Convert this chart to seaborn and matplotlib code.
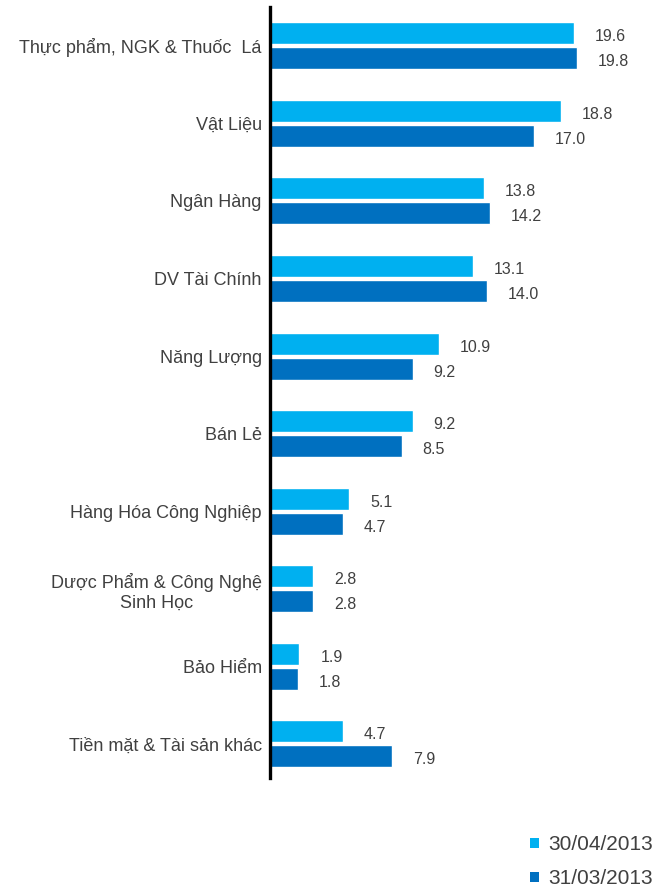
import matplotlib
matplotlib.use("Agg")
import matplotlib.pyplot as plt
import seaborn as sns
import pandas as pd
from matplotlib.patches import Patch

categories = ["Thực phẩm, NGK & Thuốc  Lá", "Vật Liệu", "Ngân Hàng", "DV Tài Chính",
              "Năng Lượng", "Bán Lẻ", "Hàng Hóa Công Nghiệp",
              "Dược Phẩm & Công Nghệ\nSinh Học", "Bảo Hiểm", "Tiền mặt & Tài sản khác"]
series_names = ["30/04/2013", "31/03/2013"]
values_apr = [19.6, 18.8, 13.8, 13.1, 10.9, 9.2, 5.1, 2.8, 1.9, 4.7]
values_mar = [19.8, 17.0, 14.2, 14.0, 9.2, 8.5, 4.7, 2.8, 1.8, 7.9]
colors = ["#00B0F0", "#0070C0"]

df = pd.DataFrame({
    "cat": categories * 2,
    "val": values_apr + values_mar,
    "series": [series_names[0]] * len(categories) + [series_names[1]] * len(categories),
})

sns.set_style("white")
plt.rcParams["font.family"] = ["Liberation Sans", "DejaVu Sans"]

fig = plt.figure(figsize=(6.68, 8.92), dpi=100)
ax = fig.add_axes([270 / 668, 1 - 778 / 892, 380 / 668, 771 / 892])

sns.barplot(data=df, x="val", y="cat", hue="series", order=categories,
            hue_order=series_names, palette=colors, width=0.645, gap=0.12,
            orient="h", ax=ax, legend=False, saturation=1)

for cont in ax.containers:
    anns = ax.bar_label(cont, fmt="%.1f", padding=15, fontsize=11.5, color="#404040")
    for a in anns:
        a.xyann = (15, -2.5)

ax.set_xlim(0, 380 / 15.5)
ax.set_ylim(9.44, -0.5)
ax.set_xlabel("")
ax.set_ylabel("")
ax.set_xticks([])
ax.tick_params(axis="y", length=0, pad=6, labelsize=13, labelcolor="#404040")
for lbl in ax.get_yticklabels():
    lbl.set_multialignment("center")
for s in ["top", "right", "bottom"]:
    ax.spines[s].set_visible(False)
ax.spines["left"].set_color("black")
ax.spines["left"].set_linewidth(2.4)

handles = [Patch(facecolor=c, edgecolor="none") for c in colors]
fig.legend(handles, series_names, loc="lower right", bbox_to_anchor=(0.977, 0.004),
           frameon=False, fontsize=15, handlelength=0.4, handleheight=0.4,
           handletextpad=0.45, labelspacing=0.72, borderpad=0, borderaxespad=0,
           labelcolor="#404040")

fig.savefig("out.png", dpi=100, facecolor="white")
